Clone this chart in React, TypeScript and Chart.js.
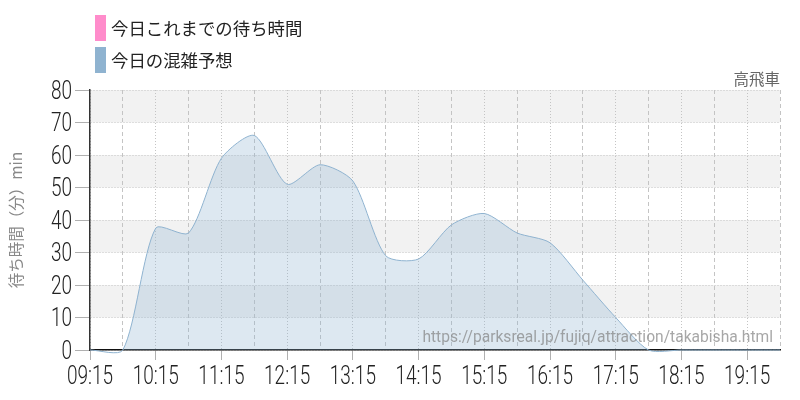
import { useEffect, useRef } from 'react';
import { Chart, registerables } from 'chart.js';

Chart.register(...registerables);

// half-hour slots of the day
const times = [
  '09:15', '09:45', '10:15', '10:45', '11:15', '11:45', '12:15', '12:45',
  '13:15', '13:45', '14:15', '14:45', '15:15', '15:45', '16:15', '16:45',
  '17:15', '17:45', '18:15', '18:45', '19:15', '19:45',
];

// 今日の混雑予想 (forecast wait, minutes)
const forecast = [
  0, 0, 37.5, 36, 59, 66, 51, 57,
  52, 29, 28, 38.5, 42, 36, 33, 21.5,
  10, 0, 0, 0, 0, 0,
];

// 今日これまでの待ち時間 (no data yet)
const actual: number[] = [];

const yTicks = [0, 10, 20, 30, 40, 50, 60, 70, 80];

const legendItems = [
  { text: '今日これまでの待ち時間', color: '#ff8ccb' },
  { text: '今日の混雑予想', color: '#8fb3d0' },
];

const attractionName = '高飛車';
const sourceUrl = 'https://parksreal.jp/fujiq/attraction/takabisha.html';
const yTitle = '待ち時間（分）min';

const CJK = "'Noto Sans CJK JP', 'Noto Sans', sans-serif";
const NUM = 'Roboto, sans-serif';
const SQUEEZE = 0.76; // the tick font in the original is a condensed face

const bandsPlugin = {
  id: 'bands',
  beforeDraw(chart: any) {
    const { ctx, chartArea, scales } = chart;
    const y = scales.y;
    ctx.save();
    ctx.fillStyle = '#f2f2f2';
    for (let i = 0; i < yTicks.length - 1; i++) {
      if (i % 2 === 1) {
        const top = y.getPixelForValue(yTicks[i + 1]);
        const bottom = y.getPixelForValue(yTicks[i]);
        ctx.fillRect(chartArea.left, top, chartArea.right - chartArea.left, bottom - top);
      }
    }
    ctx.restore();
  },
};

// tick labels, squeezed horizontally
const tickLabelPlugin = {
  id: 'condensedTicks',
  afterDraw(chart: any) {
    const { ctx, scales } = chart;
    ctx.save();
    ctx.font = `300 25px ${NUM}`;
    ctx.fillStyle = '#222';
    ctx.textBaseline = 'alphabetic';

    ctx.textAlign = 'right';
    yTicks.forEach((v) => {
      const py = scales.y.getPixelForValue(v);
      ctx.save();
      ctx.translate(72, py + 8.5);
      ctx.scale(SQUEEZE, 1);
      ctx.fillText(String(v), 0, 0);
      ctx.restore();
    });

    ctx.textAlign = 'center';
    times.forEach((t, i) => {
      if (i % 2 !== 0) return;
      const px = scales.x.getPixelForValue(i);
      ctx.save();
      ctx.translate(px, 384);
      ctx.scale(SQUEEZE, 1);
      ctx.fillText(t, 0, 0);
      ctx.restore();
    });
    ctx.restore();
  },
};

const textPlugin = {
  id: 'extraText',
  afterDraw(chart: any) {
    const { ctx, chartArea } = chart;
    ctx.save();
    // legend, stacked
    ctx.font = `17.4px ${CJK}`;
    ctx.textBaseline = 'middle';
    ctx.textAlign = 'left';
    legendItems.forEach((item, i) => {
      const top = 15 + i * 32;
      ctx.fillStyle = item.color;
      ctx.fillRect(95, top, 11, 26);
      ctx.fillStyle = '#222';
      ctx.fillText(item.text, 111, top + 13);
    });
    // attraction name
    ctx.font = `15.5px ${CJK}`;
    ctx.fillStyle = '#666';
    ctx.textAlign = 'right';
    ctx.fillText(attractionName, chartArea.right, 79);
    // source
    ctx.font = '15.6px Roboto, sans-serif';
    ctx.fillStyle = 'rgba(130,130,130,0.7)';
    ctx.textBaseline = 'alphabetic';
    ctx.fillText(sourceUrl, chartArea.right - 7, chartArea.bottom - 8);
    ctx.restore();
  },
};

const App = () => {
  const chartRef = useRef<HTMLCanvasElement>(null);

  useEffect(() => {
    document.body.style.margin = '0';
    let myChart: any = null;

    if (chartRef.current) {
      myChart = new Chart(chartRef.current, {
        type: 'line',
        data: {
          labels: times,
          datasets: [
            {
              label: legendItems[0].text,
              data: actual,
              borderColor: legendItems[0].color,
              backgroundColor: 'rgba(255,140,203,0.3)',
              borderWidth: 1,
              pointRadius: 0,
              fill: 'origin',
            },
            {
              label: legendItems[1].text,
              data: forecast,
              borderColor: '#8fb3d0',
              backgroundColor: 'rgba(143,179,208,0.3)',
              borderWidth: 1,
              pointRadius: 0,
              tension: 0.25,
              capBezierPoints: false,
              clip: 4,
              fill: 'origin',
            },
          ],
        },
        options: {
          animation: false,
          responsive: true,
          maintainAspectRatio: false,
          events: [],
          layout: { padding: { top: 90, right: 20, left: 0, bottom: 0 } },
          plugins: {
            legend: { display: false },
            tooltip: { enabled: false },
          },
          scales: {
            x: {
              afterFit: (scale: any) => { scale.height = 50; },
              grid: {
                color: '#c4c4c4',
                tickColor: (c: any) => (c.index % 2 === 0 ? '#b0b0b0' : 'rgba(0,0,0,0)'),
                tickLength: 10,
              },
              border: {
                color: '#111',
                width: 1.5,
                dash: (c: any) => (c.type !== 'tick' ? [] : c.index % 2 === 0 ? [1, 2] : [4, 3]),
              },
              ticks: {
                autoSkip: false,
                maxRotation: 0,
                display: false,
              },
            },
            y: {
              min: 0,
              max: 80,
              afterFit: (scale: any) => { scale.width = 90; },
              grid: {
                color: '#c4c4c4',
                tickColor: '#b0b0b0',
                tickLength: 15,
              },
              border: {
                color: '#333',
                width: 1.5,
                dash: (c: any) => (c.type === 'tick' ? [1, 2] : []),
              },
              ticks: {
                stepSize: 10,
                display: false,
              },
              title: {
                display: true,
                text: yTitle,
                color: '#888',
                font: { family: CJK, size: 15.5 },
                padding: { top: 7, bottom: 0 },
              },
            },
          },
        },
        plugins: [bandsPlugin, tickLabelPlugin, textPlugin],
      });
    }

    return () => {
      if (myChart) {
        myChart.destroy();
      }
    };
  }, []);

  return (
    <div style={{ width: '800px', height: '400px' }}>
      <canvas ref={chartRef}></canvas>
    </div>
  );
};

export default App;
